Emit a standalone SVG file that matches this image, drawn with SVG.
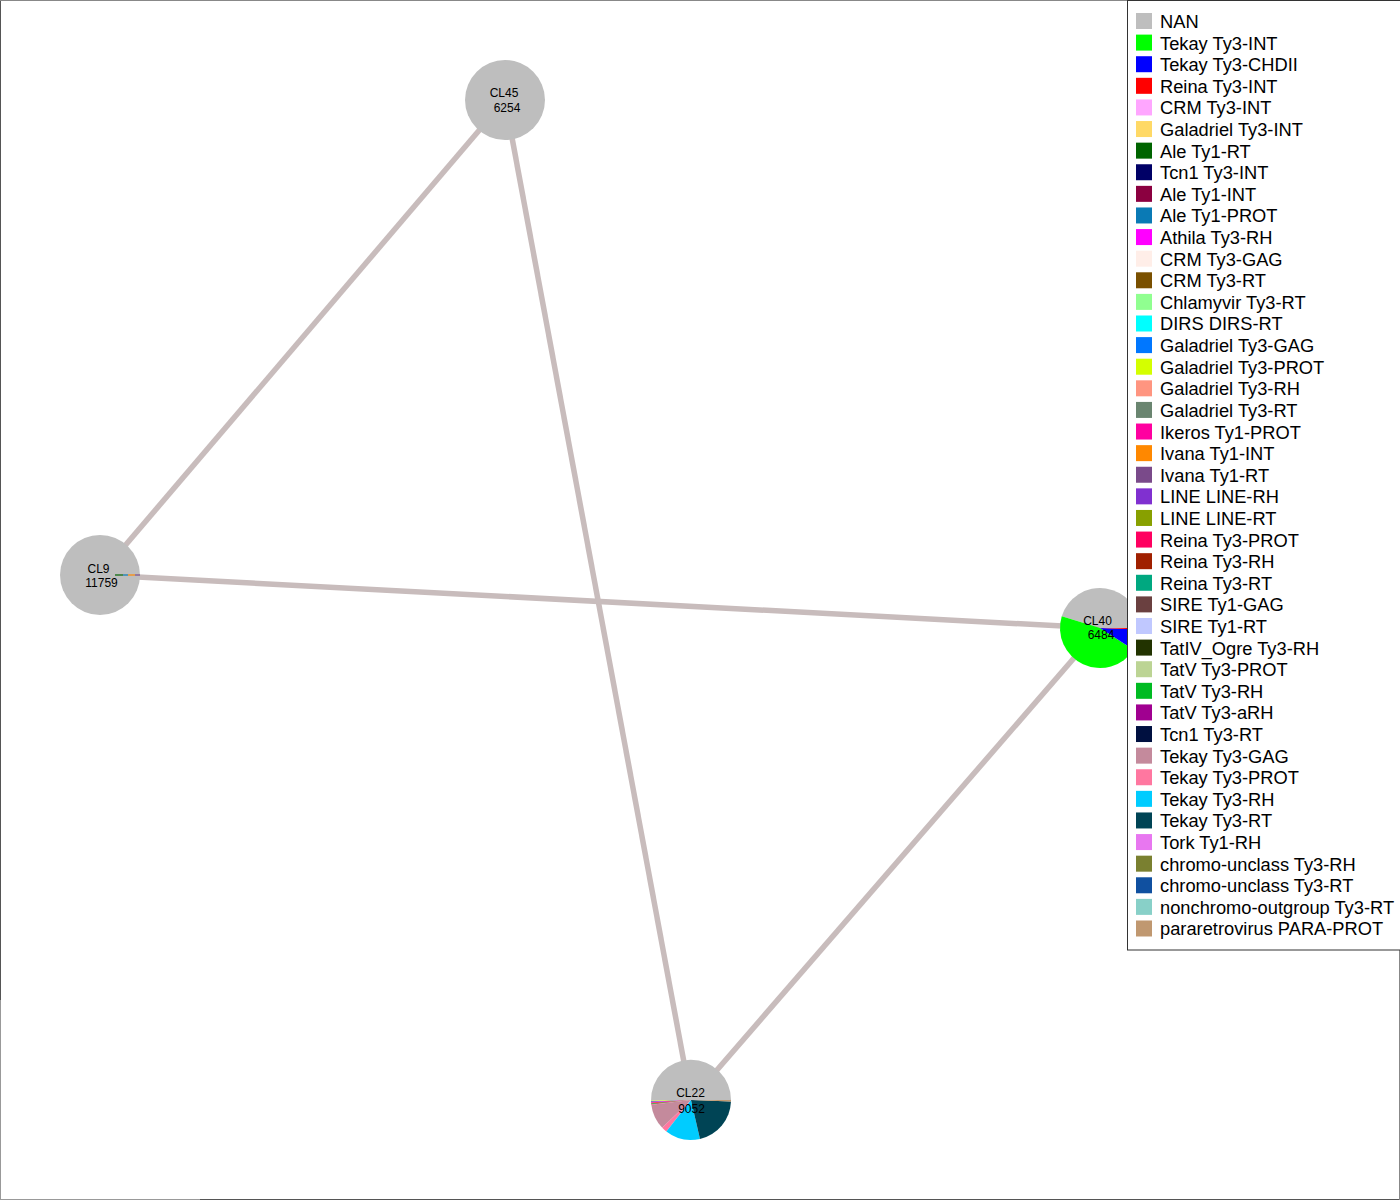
<svg xmlns="http://www.w3.org/2000/svg" width="1400" height="1200" viewBox="0 0 1400 1200">
<style>
.edge{stroke:#c8bcbc;stroke-width:5.5;fill:none}
.lbl{font-family:"Liberation Sans",Arial,sans-serif;font-size:12px;fill:#000;text-anchor:middle}
.lg{font-family:"Liberation Sans",Arial,sans-serif;font-size:18.3px;fill:#000}
.nan{fill:#bebebe}
</style>
<rect x="0" y="0" width="1400" height="1200" fill="#ffffff"/>
<line x1="0.5" y1="0" x2="0.5" y2="1000" stroke="#555555" stroke-width="1"/>
<line x1="0.5" y1="1000" x2="0.5" y2="1200" stroke="#999999" stroke-width="1"/>
<line x1="0" y1="1199.5" x2="200" y2="1199.5" stroke="#999999" stroke-width="1"/>
<line x1="200" y1="1199.5" x2="1400" y2="1199.5" stroke="#555555" stroke-width="1"/>
<line x1="0" y1="0.5" x2="1400" y2="0.5" stroke="#888888" stroke-width="1"/>
<line x1="1399.5" y1="0" x2="1399.5" y2="1200" stroke="#888888" stroke-width="1"/>

<g id="connectors">
<line class="edge" x1="505" y1="100" x2="100" y2="575"/>
<line class="edge" x1="505" y1="100" x2="691" y2="1100"/>
<line class="edge" x1="100" y1="575" x2="1100" y2="628"/>
<line class="edge" x1="1100" y1="628" x2="691" y2="1100"/>
</g>

<g id="node-CL45">
<circle class="nan" cx="505" cy="100" r="40"/>
<text class="lbl" x="504" y="96.5">CL45</text>
<text class="lbl" x="507" y="111.5">6254</text>
</g>

<g id="node-CL9">
<circle class="nan" cx="100" cy="575" r="40"/>
<line x1="115" y1="575" x2="123" y2="575" stroke="#006400" stroke-width="1.2"/>
<line x1="123" y1="575" x2="128" y2="575" stroke="#0a7ab5" stroke-width="1.2"/>
<line x1="128" y1="575" x2="135" y2="575" stroke="#ff8800" stroke-width="1.2"/>
<line x1="135" y1="575" x2="140" y2="575" stroke="#7a4a8a" stroke-width="1.2"/>
<text class="lbl" x="98.5" y="573">CL9</text>
<text class="lbl" x="101.5" y="587">11759</text>
</g>

<g id="node-CL40">
<path class="nan" d="M1100,628 L1140,628 A40,40 0 0 0 1061.75,616.30 Z"/>
<path fill="#00ff00" d="M1100,628 L1061.75,616.30 A40,40 0 0 0 1133.55,649.78 Z"/>
<path fill="#0000ff" d="M1100,628 L1133.55,649.78 A40,40 0 0 0 1139.98,629.40 Z"/>
<path fill="#ff0000" d="M1100,628 L1139.98,629.40 A40,40 0 0 0 1140,628 Z"/>
<text class="lbl" x="1097.5" y="625">CL40</text>
<text class="lbl" x="1101" y="639">6484</text>
</g>

<g id="node-CL22">
<path class="nan" d="M691,1100 L731,1100 A40,40 0 1 0 651.01,1100.70 Z"/>
<path fill="#ccff00" d="M691,1100 L651.01,1100.70 A40,40 0 0 0 651.02,1101.40 Z"/>
<path fill="#0000ff" d="M691,1100 L651.02,1101.40 A40,40 0 0 0 651.05,1102.09 Z"/>
<path fill="#ff00ff" d="M691,1100 L651.05,1102.09 A40,40 0 0 0 651.10,1102.79 Z"/>
<path fill="#ff0000" d="M691,1100 L651.10,1102.79 A40,40 0 0 0 651.15,1103.49 Z"/>
<path fill="#00bb22" d="M691,1100 L651.15,1103.49 A40,40 0 0 0 651.22,1104.18 Z"/>
<path fill="#ff0060" d="M691,1100 L651.22,1104.18 A40,40 0 0 0 651.30,1104.87 Z"/>
<path fill="#c48a9c" d="M691,1100 L651.30,1104.87 A40,40 0 0 0 662.23,1127.79 Z"/>
<path fill="#ff77a0" d="M691,1100 L662.23,1127.79 A40,40 0 0 0 666.37,1131.52 Z"/>
<path fill="#00ccff" d="M691,1100 L666.37,1131.52 A40,40 0 0 0 700.00,1138.97 Z"/>
<path fill="#004455" d="M691,1100 L700.00,1138.97 A40,40 0 0 0 730.98,1101.40 Z"/>
<path fill="#c09870" d="M691,1100 L730.98,1101.40 A40,40 0 0 0 731,1100 Z"/>
<text class="lbl" x="690.5" y="1096.5">CL22</text>
<text class="lbl" x="691.5" y="1112.5">9052</text>
</g>

<g id="legend">
<rect x="1127.5" y="0.5" width="273" height="949.5" fill="#ffffff" stroke="#333333" stroke-width="1"/>
<g transform="translate(1136,13)">
<rect x="0" y="0" width="16" height="16" fill="#bebebe"/>
<rect x="0" y="21.607" width="16" height="16" fill="#00ff00"/>
<rect x="0" y="43.214" width="16" height="16" fill="#0000ff"/>
<rect x="0" y="64.821" width="16" height="16" fill="#ff0000"/>
<rect x="0" y="86.428" width="16" height="16" fill="#ffa6ff"/>
<rect x="0" y="108.035" width="16" height="16" fill="#ffd966"/>
<rect x="0" y="129.642" width="16" height="16" fill="#006400"/>
<rect x="0" y="151.249" width="16" height="16" fill="#000066"/>
<rect x="0" y="172.856" width="16" height="16" fill="#8b0040"/>
<rect x="0" y="194.463" width="16" height="16" fill="#0a7ab5"/>
<rect x="0" y="216.07" width="16" height="16" fill="#ff00ff"/>
<rect x="0" y="237.677" width="16" height="16" fill="#ffeee8"/>
<rect x="0" y="259.284" width="16" height="16" fill="#7a5000"/>
<rect x="0" y="280.891" width="16" height="16" fill="#90ff90"/>
<rect x="0" y="302.498" width="16" height="16" fill="#00ffff"/>
<rect x="0" y="324.105" width="16" height="16" fill="#0077ff"/>
<rect x="0" y="345.712" width="16" height="16" fill="#d4ff00"/>
<rect x="0" y="367.319" width="16" height="16" fill="#ff9580"/>
<rect x="0" y="388.926" width="16" height="16" fill="#6a8570"/>
<rect x="0" y="410.533" width="16" height="16" fill="#ff00a0"/>
<rect x="0" y="432.14" width="16" height="16" fill="#ff8800"/>
<rect x="0" y="453.747" width="16" height="16" fill="#7a4a8a"/>
<rect x="0" y="475.354" width="16" height="16" fill="#8030d0"/>
<rect x="0" y="496.961" width="16" height="16" fill="#88a000"/>
<rect x="0" y="518.568" width="16" height="16" fill="#ff0060"/>
<rect x="0" y="540.175" width="16" height="16" fill="#a02000"/>
<rect x="0" y="561.782" width="16" height="16" fill="#00a880"/>
<rect x="0" y="583.389" width="16" height="16" fill="#6a4040"/>
<rect x="0" y="604.996" width="16" height="16" fill="#c0c8ff"/>
<rect x="0" y="626.603" width="16" height="16" fill="#223300"/>
<rect x="0" y="648.21" width="16" height="16" fill="#bcd494"/>
<rect x="0" y="669.817" width="16" height="16" fill="#00bb22"/>
<rect x="0" y="691.424" width="16" height="16" fill="#a00090"/>
<rect x="0" y="713.031" width="16" height="16" fill="#001040"/>
<rect x="0" y="734.638" width="16" height="16" fill="#c48a9c"/>
<rect x="0" y="756.245" width="16" height="16" fill="#ff77a0"/>
<rect x="0" y="777.852" width="16" height="16" fill="#00ccff"/>
<rect x="0" y="799.459" width="16" height="16" fill="#004455"/>
<rect x="0" y="821.066" width="16" height="16" fill="#e877f0"/>
<rect x="0" y="842.673" width="16" height="16" fill="#7a8030"/>
<rect x="0" y="864.28" width="16" height="16" fill="#1050a0"/>
<rect x="0" y="885.887" width="16" height="16" fill="#88d0c8"/>
<rect x="0" y="907.494" width="16" height="16" fill="#c09870"/>
</g>
<g transform="translate(1160,28)">
<text class="lg" x="0" y="0">NAN</text>
<text class="lg" x="0" y="21.607">Tekay Ty3-INT</text>
<text class="lg" x="0" y="43.214">Tekay Ty3-CHDII</text>
<text class="lg" x="0" y="64.821">Reina Ty3-INT</text>
<text class="lg" x="0" y="86.428">CRM Ty3-INT</text>
<text class="lg" x="0" y="108.035">Galadriel Ty3-INT</text>
<text class="lg" x="0" y="129.642">Ale Ty1-RT</text>
<text class="lg" x="0" y="151.249">Tcn1 Ty3-INT</text>
<text class="lg" x="0" y="172.856">Ale Ty1-INT</text>
<text class="lg" x="0" y="194.463">Ale Ty1-PROT</text>
<text class="lg" x="0" y="216.07">Athila Ty3-RH</text>
<text class="lg" x="0" y="237.677">CRM Ty3-GAG</text>
<text class="lg" x="0" y="259.284">CRM Ty3-RT</text>
<text class="lg" x="0" y="280.891">Chlamyvir Ty3-RT</text>
<text class="lg" x="0" y="302.498">DIRS DIRS-RT</text>
<text class="lg" x="0" y="324.105">Galadriel Ty3-GAG</text>
<text class="lg" x="0" y="345.712">Galadriel Ty3-PROT</text>
<text class="lg" x="0" y="367.319">Galadriel Ty3-RH</text>
<text class="lg" x="0" y="388.926">Galadriel Ty3-RT</text>
<text class="lg" x="0" y="410.533">Ikeros Ty1-PROT</text>
<text class="lg" x="0" y="432.14">Ivana Ty1-INT</text>
<text class="lg" x="0" y="453.747">Ivana Ty1-RT</text>
<text class="lg" x="0" y="475.354">LINE LINE-RH</text>
<text class="lg" x="0" y="496.961">LINE LINE-RT</text>
<text class="lg" x="0" y="518.568">Reina Ty3-PROT</text>
<text class="lg" x="0" y="540.175">Reina Ty3-RH</text>
<text class="lg" x="0" y="561.782">Reina Ty3-RT</text>
<text class="lg" x="0" y="583.389">SIRE Ty1-GAG</text>
<text class="lg" x="0" y="604.996">SIRE Ty1-RT</text>
<text class="lg" x="0" y="626.603">TatIV_Ogre Ty3-RH</text>
<text class="lg" x="0" y="648.21">TatV Ty3-PROT</text>
<text class="lg" x="0" y="669.817">TatV Ty3-RH</text>
<text class="lg" x="0" y="691.424">TatV Ty3-aRH</text>
<text class="lg" x="0" y="713.031">Tcn1 Ty3-RT</text>
<text class="lg" x="0" y="734.638">Tekay Ty3-GAG</text>
<text class="lg" x="0" y="756.245">Tekay Ty3-PROT</text>
<text class="lg" x="0" y="777.852">Tekay Ty3-RH</text>
<text class="lg" x="0" y="799.459">Tekay Ty3-RT</text>
<text class="lg" x="0" y="821.066">Tork Ty1-RH</text>
<text class="lg" x="0" y="842.673">chromo-unclass Ty3-RH</text>
<text class="lg" x="0" y="864.28">chromo-unclass Ty3-RT</text>
<text class="lg" x="0" y="885.887">nonchromo-outgroup Ty3-RT</text>
<text class="lg" x="0" y="907.494">pararetrovirus PARA-PROT</text>
</g>
</g>
</svg>
